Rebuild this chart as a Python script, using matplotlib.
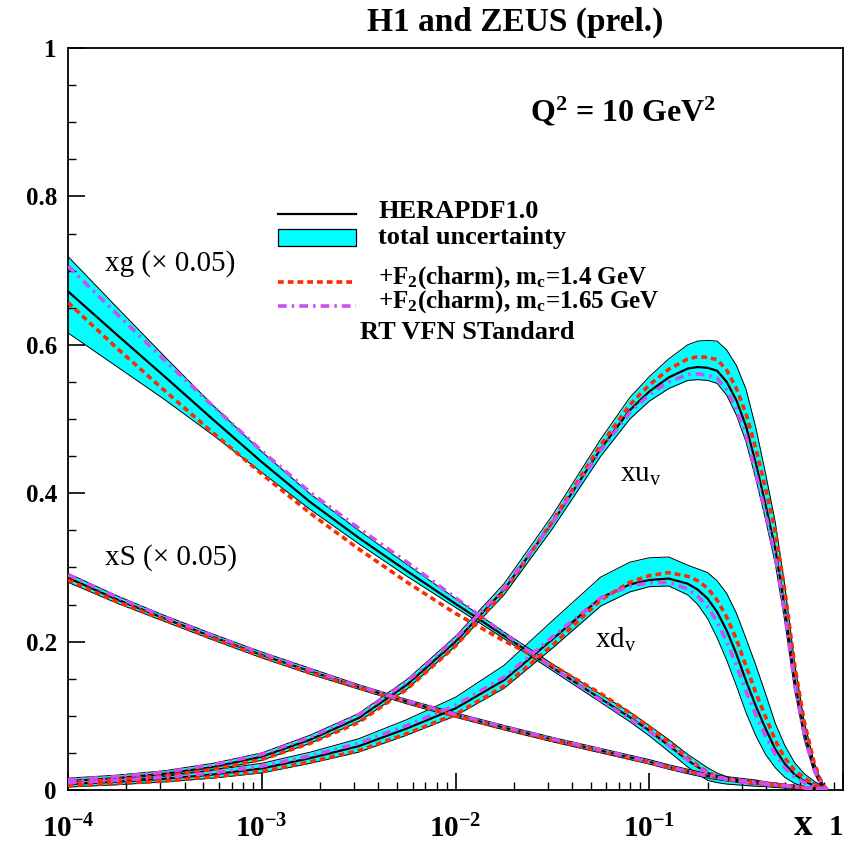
import matplotlib
matplotlib.use("Agg")
import matplotlib.pyplot as plt
import numpy as np
from matplotlib.ticker import FixedLocator, FixedFormatter, NullFormatter
from matplotlib.patches import Rectangle
from matplotlib.lines import Line2D

plt.rcParams['font.family'] = ['Liberation Serif', 'DejaVu Serif']
plt.rcParams['mathtext.fontset'] = 'custom'
plt.rcParams['mathtext.rm'] = 'Liberation Serif'
plt.rcParams['mathtext.it'] = 'Liberation Serif:italic'
plt.rcParams['mathtext.bf'] = 'Liberation Serif:bold'

# ---------------- data ----------------
x = [1.0e-4, 1.78e-4, 3.16e-4, 5.62e-4, 1.0e-3, 1.78e-3, 3.16e-3, 5.62e-3,
     1.0e-2, 1.78e-2, 3.16e-2, 5.62e-2, 0.0794, 0.1, 0.126, 0.158, 0.178,
     0.200, 0.224, 0.251, 0.282, 0.316, 0.355, 0.398, 0.447, 0.501, 0.562,
     0.631, 0.708, 0.759, 0.794, 0.832]

# gluon (x 0.05)
xg = [.672, .614, .557, .499, .442, .388, .340, .295, .251, .208, .165, .123, .098, .080, .060, .040, .031,
      .023, .018, .014, .012, .010, .009, .0075, .0065, .0055, .0045, .003, .002, .0012, .0006, 0]
xg_up = [.047, .037, .027, .019, .014, .011, .010, .009, .007, .005, .005, .006, .007, .007, .008, .008, .008,
         .007, .005, .004, .003, .003, .003, .003, .003, .002, .002, .002, .001, .001, .001, 0]
xg_dn = [.056, .043, .031, .021, .014, .010, .008, .007, .005, .004, .004, .005, .006, .007, .008, .009, .010,
         .010, .008, .006, .005, .004, .004, .003, .003, .003, .002, .002, .001, .001, .0005, 0]
xg_mc14 = [.657, .596, .538, .481, .426, .373, .325, .280, .238, .201, .168, .130, .104, .085, .064, .043, .033,
           .024, .018, .014, .012, .010, .009, .0075, .0065, .0055, .0045, .003, .002, .0012, .0006, 0]
xg_mc165 = [.706, .642, .579, .517, .457, .401, .353, .307, .259, .211, .165, .121, .096, .079, .060, .040, .031,
            .023, .018, .014, .012, .010, .009, .0075, .0065, .0055, .0045, .003, .002, .0012, .0006, 0]

# sea (x 0.05)
xS = [.286, .257, .231, .206, .182, .160, .139, .119, .101, .084, .068, .053, .044, .038, .031, .025, .022,
      .019, .017, .015, .0135, .012, .0105, .009, .0075, .006, .0045, .003, .0018, .001, .0005, 0]
xS_up = [.006, .005, .004, .004, .004, .004, .003, .003, .003, .003, .003, .003, .003, .003, .003, .003, .003,
         .003, .003, .003, .003, .003, .003, .002, .002, .002, .002, .002, .001, .001, .001, 0]
xS_dn = [.006, .005, .004, .004, .004, .004, .003, .003, .003, .003, .003, .003, .003, .003, .003, .003, .003,
         .003, .003, .003, .003, .003, .003, .002, .002, .002, .002, .002, .001, .001, .0005, 0]
xS_mc14 = [.283, .254, .229, .204, .180, .158, .138, .118, .100, .083, .067, .052, .043, .037, .030, .025, .022,
           .019, .017, .015, .0135, .012, .0105, .009, .0075, .006, .0045, .003, .0018, .001, .0005, 0]
xS_mc165 = [.290, .260, .233, .208, .184, .162, .140, .120, .102, .085, .069, .054, .045, .038, .031, .025, .022,
            .019, .017, .015, .0135, .012, .0105, .009, .0075, .006, .0045, .003, .0018, .001, .0005, 0]

# u valence
xuv = [.012, .016, .022, .031, .045, .068, .097, .142, .200, .270, .360, .460, .512, .537, .556, .568, .570,
       .569, .565, .550, .525, .490, .440, .385, .325, .245, .150, .078, .030, .012, .004, 0]
xuv_up = [.004, .004, .004, .005, .005, .006, .006, .007, .007, .008, .010, .013, .017, .020, .025, .032, .035,
          .037, .040, .043, .047, .050, .048, .042, .036, .030, .022, .014, .008, .005, .003, 0]
xuv_dn = [.004, .004, .004, .004, .005, .005, .005, .006, .006, .007, .008, .010, .012, .013, .015, .016, .017,
          .017, .017, .018, .020, .021, .021, .020, .020, .018, .014, .010, .006, .004, .002, 0]
xuv_mc14 = [.010, .014, .019, .028, .041, .063, .091, .136, .194, .267, .362, .465, .519, .546, .567, .581, .584,
            .583, .580, .566, .541, .507, .460, .407, .349, .269, .170, .092, .038, .016, .006, 0]
xuv_mc165 = [.014, .018, .024, .034, .048, .071, .101, .146, .204, .272, .360, .458, .509, .533, .550, .560, .561,
             .559, .555, .539, .513, .477, .427, .373, .315, .237, .144, .074, .028, .012, .004, 0]

# d valence
xdv = [.008, .011, .015, .021, .029, .043, .059, .083, .110, .148, .203, .259, .277, .283, .285, .278, .270,
       .258, .240, .215, .183, .147, .113, .083, .055, .035, .021, .012, .006, .003, .0015, 0]
xdv_up = [.004, .004, .005, .006, .007, .008, .010, .012, .015, .020, .025, .028, .030, .030, .029, .025, .028,
          .035, .042, .050, .055, .057, .055, .047, .035, .025, .016, .010, .006, .004, .002, 0]
xdv_dn = [.004, .004, .004, .005, .006, .007, .008, .009, .010, .011, .012, .011, .010, .009, .010, .015, .020,
          .027, .035, .040, .043, .043, .040, .035, .025, .018, .012, .008, .004, .002, .001, 0]
xdv_mc14 = [.006, .009, .012, .018, .025, .038, .053, .076, .102, .140, .195, .256, .280, .289, .293, .288, .282,
            .272, .256, .233, .203, .167, .131, .099, .067, .043, .027, .016, .008, .003, .0015, 0]
xdv_mc165 = [.010, .013, .017, .023, .032, .046, .063, .087, .114, .152, .206, .259, .275, .279, .280, .271, .261,
             .247, .227, .200, .168, .133, .101, .073, .048, .030, .018, .010, .006, .003, .0015, 0]

y_ticks = [0, 0.2, 0.4, 0.6, 0.8, 1.0]
y_ticklabels = ["0", "0.2", "0.4", "0.6", "0.8", "1"]
x_ticks = [1e-4, 1e-3, 1e-2, 1e-1, 1]
x_ticklabels = [r"$\mathbf{10^{-4}}$", r"$\mathbf{10^{-3}}$", r"$\mathbf{10^{-2}}$",
                r"$\mathbf{10^{-1}}$", r"$\mathbf{1}$"]

# ---------------- styles ----------------
CYAN = "#00ffff"
RED = "#ff2a00"
PURPLE = "#cc4ff0"
red_ls = (0, (1.6, 1.1))
pur_ls = (0, (2.4, 1.4, 0.7, 1.4))

fig = plt.figure(figsize=(8.46, 8.50), dpi=100)
ax = fig.add_axes([68 / 846, 60 / 850, 775 / 846, 742 / 850])
ax.set_xscale("log")
ax.set_xlim(1e-4, 1)
ax.set_ylim(0, 1)

xa = np.array(x)
curves = [
    (xg, xg_up, xg_dn, xg_mc14, xg_mc165),
    (xS, xS_up, xS_dn, xS_mc14, xS_mc165),
    (xuv, xuv_up, xuv_dn, xuv_mc14, xuv_mc165),
    (xdv, xdv_up, xdv_dn, xdv_mc14, xdv_mc165),
]
for c, up, dn, r, p in curves:
    c = np.array(c); hi = c + np.array(up); lo = c - np.array(dn)
    ax.fill_between(xa, lo, hi, color=CYAN, lw=0, zorder=1)
    ax.plot(xa, hi, color="black", lw=0.7, zorder=2)
    ax.plot(xa, lo, color="black", lw=0.7, zorder=2)
for c, up, dn, r, p in curves:
    ax.plot(xa, c, color="black", lw=1.6, zorder=3)
    ax.plot(xa, r, color=RED, lw=2.6, ls=red_ls, zorder=4)
    ax.plot(xa, p, color=PURPLE, lw=2.6, ls=pur_ls, zorder=5)

# axes / ticks
for s in ax.spines.values():
    s.set_linewidth(1.3)
ax.yaxis.set_major_locator(FixedLocator(y_ticks))
ax.yaxis.set_major_formatter(FixedFormatter(y_ticklabels))
ax.yaxis.set_minor_locator(FixedLocator([0.05 * i for i in range(21)]))
ax.xaxis.set_major_locator(FixedLocator(x_ticks))
ax.xaxis.set_major_formatter(FixedFormatter(x_ticklabels))
minors = [m * 10.0 ** e for e in range(-4, 0) for m in range(2, 10)]
ax.xaxis.set_minor_locator(FixedLocator(minors))
ax.xaxis.set_minor_formatter(NullFormatter())
ax.tick_params(axis="both", which="both", direction="in", top=False, right=False)
ax.tick_params(axis="both", which="major", length=12, width=1.2)
ax.tick_params(axis="both", which="minor", length=6, width=1.0)
ax.tick_params(axis="y", which="major", pad=8, labelsize=18)
ax.tick_params(axis="x", which="major", pad=18, labelsize=21)
for lab in ax.get_yticklabels():
    lab.set_fontweight("bold")
# keep the last x label ("1") inside the canvas, hugging the right edge
ax.xaxis.get_major_ticks()[len(x_ticks) - 1].label1.set_horizontalalignment("right")

# titles / annotations
fig.text(0.609, 0.974, "H1 and ZEUS (prel.)", ha="center", va="center",
         fontsize=24, fontweight="bold")
ax.text(0.596, 0.914, r"Q$^{\mathbf{2}}$ = 10 GeV$^{\mathbf{2}}$", transform=ax.transAxes,
        ha="left", va="center", fontsize=23, fontweight="bold")
fig.text(0.950, 0.008, "x", ha="center", va="bottom", fontsize=27, fontweight="bold")

lab_kw = dict(transform=ax.transAxes, ha="left", va="center", fontsize=21)
ax.text(0.048, 0.710, "xg (\u00d7 0.05)", **lab_kw)
ax.text(0.048, 0.313, "xS (\u00d7 0.05)", **lab_kw)
ax.text(0.712, 0.425, r"xu$_{\mathrm{v}}$", **lab_kw)
ax.text(0.680, 0.202, r"xd$_{\mathrm{v}}$", **lab_kw)

# legend (manual, ROOT style)
T = ax.transAxes
ax.add_line(Line2D([0.271, 0.372], [0.776, 0.776], color="black", lw=1.6, transform=T))
ax.add_patch(Rectangle((0.271, 0.733), 0.101, 0.023, facecolor=CYAN, edgecolor="black",
                       lw=0.9, transform=T))
ax.add_line(Line2D([0.271, 0.372], [0.685, 0.685], color=RED, lw=2.6, ls=red_ls, transform=T))
ax.add_line(Line2D([0.271, 0.372], [0.652, 0.652], color=PURPLE, lw=2.6, ls=pur_ls, transform=T))
kw = dict(transform=T, ha="left", va="center", fontsize=19, fontweight="bold")
kw2 = dict(transform=T, ha="left", va="center", fontsize=18, fontweight="bold")
ax.text(0.400, 0.779, "HERAPDF1.0", **kw)
ax.text(0.400, 0.745, "total uncertainty", **kw)
ax.text(0.400, 0.691, r"+F$_{\mathbf{2}}$(charm), m$_{\mathbf{c}}$=1.4 GeV", **kw2)
ax.text(0.400, 0.658, r"+F$_{\mathbf{2}}$(charm), m$_{\mathbf{c}}$=1.65 GeV", **kw2)
ax.text(0.377, 0.616, "RT VFN STandard", **kw)

fig.savefig("out.png", dpi=100)
